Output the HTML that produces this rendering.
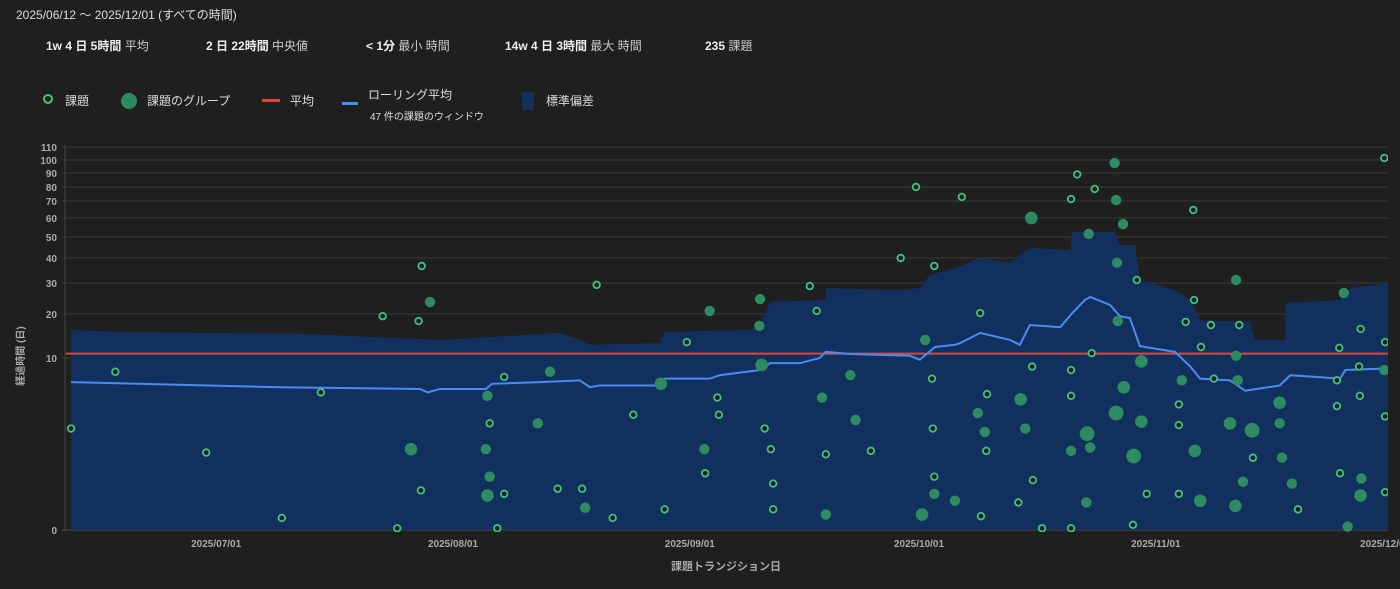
<!DOCTYPE html>
<html><head><meta charset="utf-8">
<style>
body{margin:0;width:1400px;height:589px;background:#1f1f1f;overflow:hidden;font-family:"Liberation Sans","Noto Sans CJK JP",sans-serif;color:#ddd}
.hdr{position:absolute;left:16px;top:6px;font-size:12px;color:#ddd}
.stat{position:absolute;top:37px;font-size:12px;color:#ccc}
.stat b{color:#eee}
.leg{position:absolute;top:92px;font-size:12px;color:#ddd}
</style></head><body>
<div class="hdr">2025/06/12 〜 2025/12/01 (すべての時間)</div>
<div class="stat" style="left:46px"><b>1w 4 日 5時間</b> 平均</div>
<div class="stat" style="left:206px"><b>2 日 22時間</b> 中央値</div>
<div class="stat" style="left:366px"><b>&lt; 1分</b> 最小 時間</div>
<div class="stat" style="left:505px"><b>14w 4 日 3時間</b> 最大 時間</div>
<div class="stat" style="left:705px"><b>235</b> 課題</div>

<div class="leg" style="left:43px"><span style="display:inline-block;width:6px;height:6px;border:2px solid #3fc383;border-radius:50%;margin-right:12px;vertical-align:1px"></span>課題</div>
<div class="leg" style="left:121px"><span style="display:inline-block;width:16px;height:16px;background:#2e8a60;border-radius:50%;margin-right:10px;vertical-align:-4px"></span>課題のグループ</div>
<div class="leg" style="left:262px"><span style="display:inline-block;width:18px;height:3px;background:#e0443a;margin-right:10px;vertical-align:3px"></span>平均</div>
<div class="leg" style="left:342px;top:86px"><span style="display:inline-block;width:16px;height:3px;background:#4a8cf0;margin-right:10px;vertical-align:-6px"></span>ローリング平均<div style="font-size:10px;margin-left:28px;margin-top:3px">47 件の課題のウィンドウ</div></div>
<div class="leg" style="left:522px"><span style="display:inline-block;width:12px;height:18px;background:#12305e;margin-right:12px;vertical-align:-5px"></span>標準偏差</div>

<svg id="chart" width="1400" height="589" style="position:absolute;left:0;top:0">
<defs><clipPath id="clip"><rect x="66" y="140" width="1322" height="392"/></clipPath></defs>
<g id="grid"></g>
<g id="marks" clip-path="url(#clip)"></g>
<g id="axes"></g>
<text x="726" y="570" fill="#aaa" font-size="11" font-weight="bold" text-anchor="middle" font-family="Liberation Sans, Noto Sans CJK JP, sans-serif">課題トランジション日</text>
<text transform="translate(24,356) rotate(-90)" fill="#aaa" font-size="10" font-weight="bold" text-anchor="middle" font-family="Liberation Sans, Noto Sans CJK JP, sans-serif">経過時間 (日)</text>
</svg>
<script>
// days since 2025/06/12
const yTicks=[0,10,20,30,40,50,60,70,80,90,100,110];
const xTickDays=[19,50,81,111,142,172];
const xTickLabels=["2025/07/01","2025/08/01","2025/09/01","2025/10/01","2025/11/01","2025/12/01"];
const meanValue=11;
const issueDays=[0,5.8,17.7,27.6,32.7,40.8,42.7,45.5,45.8,45.9,54.8,56.7,56.7,55.8,63.7,66.9,68.8,70.9,73.6,77.7,80.6,83.0,84.6,84.8,90.8,91.6,91.9,91.9,96.7,97.6,98.8,104.7,108.6,110.6,112.7,112.8,113.0,113.0,116.6,119.0,119.1,119.9,119.8,124.0,125.9,125.8,127.1,130.9,130.9,130.9,130.9,131.7,134.0,133.6,139.5,139.0,140.8,145.0,145.0,145.0,145.9,146.9,147.0,147.9,149.2,149.6,154.7,160.6,166.0,165.7,166.1,165.7,168.8,168.6,168.7,171.9,172.0,172.0,172.0,152.9];
const issueValues=[5.9,9.2,4.5,0.7,8.0,19.5,0.1,18.4,2.3,36.8,6.2,8.9,2.1,0.1,2.4,2.4,29.4,0.7,6.7,1.2,13.6,3.3,7.7,6.7,5.9,4.7,2.7,1.2,29.0,21.0,4.4,4.6,40,80,8.8,5.9,3.1,36.8,72.9,20.3,0.8,7.9,4.6,1.6,2.9,9.5,0.1,71.4,9.3,7.8,0.1,89,78.6,11.1,31.2,0.3,2.1,7.3,6.1,2.1,18.2,64.7,24.5,12.5,17.5,8.8,4.2,1.2,12.3,8.7,3.3,7.2,16.6,9.5,7.8,101.5,13.6,6.6,2.2,17.5];
const groupDays=[44.5,47.0,54.5,54.3,54.8,54.5,61.1,62.7,67.3,77.2,83.6,82.9,90.2,90.1,90.4,98.3,98.8,102.0,102.7,111.4,111.8,113.0,115.7,118.7,119.6,124.3,124.9,125.7,130.9,133.0,133.4,132.9,133.2,136.6,136.8,137.7,136.9,137.0,137.8,136.8,140.1,139.1,140.1,145.4,147.1,147.8,151.7,152.4,152.5,152.5,152.7,153.4,154.6,158.2,158.2,158.5,159.8,166.6,167.1,168.8,168.9,171.9];
const groupValues=[4.7,23.9,7.8,4.7,3.1,2.0,6.2,9.2,1.3,8.5,21.0,4.7,24.8,17.3,9.6,7.7,0.9,9.0,6.4,0.9,14.1,2.1,1.7,6.8,5.7,7.6,5.9,60,4.6,5.6,4.8,1.6,51.6,97.7,70.7,56.8,38.1,18.4,8.3,6.8,6.3,4.3,9.8,8.7,4.6,1.7,6.2,1.4,31.2,10.5,8.7,2.8,5.8,7.4,6.2,4.2,2.7,26.8,0.2,2.0,3.0,9.3];
const groupCounts=[3,2,2,2,2,3,2,2,2,3,2,2,2,2,3,2,2,2,2,3,2,2,2,2,2,3,2,3,2,4,2,2,2,2,2,2,2,2,3,4,3,4,3,2,3,3,3,3,2,2,2,2,4,3,2,2,2,2,2,3,2,2];
const rollDays=[0,27.4,45.7,46.7,48.3,54.3,55.1,61.4,66.6,67.9,69.2,77.1,77.7,83.6,84.9,90.2,91.5,95.4,98.0,98.8,102.0,109.8,111.1,113.1,115.7,116.4,119.0,122.9,124.2,125.5,129.5,130.8,132.7,133.4,136.0,137.3,138.6,139.9,144.5,146.5,147.8,151.7,153.7,158.2,159.6,166.1,166.8,172.5];
const rollValues=[8.6,8.3,8.2,8.0,8.2,8.2,8.5,8.6,8.7,8.3,8.4,8.4,8.8,8.8,9.0,9.3,9.7,9.7,10,11.4,10.9,10.5,9.9,12.5,13.0,13.4,15.7,14.1,13.0,17.5,17.0,19.7,24.5,25.5,22.9,19.5,19.1,12.7,11.4,9.5,8.8,8.7,8.1,8.4,9.0,8.8,9.3,9.4];
const stdDays=[0,6.4,30.0,43.1,48.3,64.0,66.6,67.9,77.1,77.7,88.9,90.2,91.5,98.7,98.8,108.5,111.1,112.4,115.7,119.0,122.9,125.5,130.8,131.0,136.6,137.3,139.3,139.9,144.5,146.5,147.8,154.3,155.0,158.9,159.0,166.1,167.4,172.5];
const stdUpper=[16.4,15.9,15.5,14.5,14.1,15.7,14.1,13.0,13.4,15.9,16.4,17.7,23.9,24.5,28.4,27.7,28.4,33.2,36.0,40,38.1,44.8,43.8,52.6,52.6,46.2,46.2,31.2,27.7,24.5,18.6,18.2,14.1,14.1,23.5,24.5,28.4,30];

const tickPx=[530,358,314,283,258,237,218,201,187,173,160,147];
function yS(v){
  if(v<=0)return 530;
  for(let i=1;i<yTicks.length;i++){
    if(v<=yTicks[i]){const t=(v-yTicks[i-1])/(yTicks[i]-yTicks[i-1]);return tickPx[i-1]+t*(tickPx[i]-tickPx[i-1]);}
  }
  const n=yTicks.length-1;return tickPx[n]+(v-yTicks[n])*(tickPx[n]-tickPx[n-1])/10;
}
function xS(d){return 71+d*7.64;}
const NS="http://www.w3.org/2000/svg";
function mk(tag,attrs,parent){const e=document.createElementNS(NS,tag);for(const k in attrs)e.setAttribute(k,attrs[k]);parent.appendChild(e);return e;}
const grid=document.getElementById('grid'),marks=document.getElementById('marks'),axes=document.getElementById('axes');
yTicks.forEach(v=>{
  const y=yS(v);
  const l=mk('line',{x1:62,x2:1388,y1:y,y2:y,stroke:v===0?'#555':'#383838','stroke-width':1},grid);
  
  
  const t=mk('text',{x:57,y:y+4,fill:'#aaa','font-size':10,'font-weight':'bold','text-anchor':'end'},axes);
  t.textContent=v;
  
  
});
const ax=mk('line',{x1:65,x2:65,y1:145,y2:531,stroke:'#444'},grid);


xTickDays.forEach((d,i)=>{
  const t=mk('text',{x:xS(d),y:547,fill:'#aaa','font-size':10,'font-weight':'bold','text-anchor':'middle'},axes);
  t.textContent=xTickLabels[i];
  
  
});
// std band (step)
let p='M'+xS(stdDays[0])+',530';
stdDays.forEach((d,i)=>{p+=' L'+xS(d)+','+yS(stdUpper[i]);});
p+=' L'+xS(stdDays[stdDays.length-1])+',530 Z';
const band=mk('path',{d:p,fill:'#12305e'},marks);


const mean=mk('line',{x1:66,x2:1388,y1:yS(meanValue),y2:yS(meanValue),stroke:'#e0443a','stroke-width':2},marks);


const roll=mk('polyline',{points:rollDays.map((d,i)=>xS(d)+','+yS(rollValues[i])).join(' '),fill:'none',stroke:'#4a8cf0','stroke-width':2},marks);


groupDays.forEach((d,i)=>{
  const c=mk('circle',{cx:xS(d),cy:yS(groupValues[i]),r:3+groupCounts[i]*1.1,fill:'#2e8a60'},marks);
  
  
});
issueDays.forEach((d,i)=>{
  const c=mk('circle',{cx:xS(d),cy:yS(issueValues[i]),r:3.3,fill:'#1f1f1f',stroke:'#3fc383','stroke-width':1.8},marks);
  
  
});
</script>
</body></html>
